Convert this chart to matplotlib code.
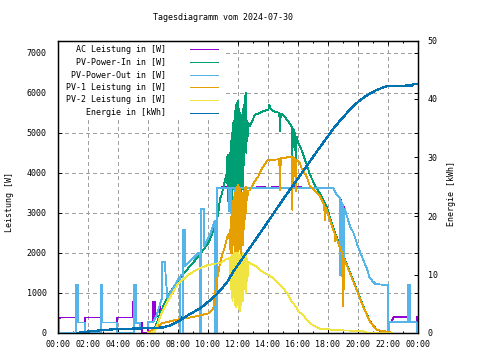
import matplotlib
matplotlib.use('Agg')
import matplotlib.pyplot as plt
from matplotlib.patches import Rectangle
from matplotlib.lines import Line2D
from matplotlib.ticker import MultipleLocator, FuncFormatter

plt.rcParams['font.family'] = ['DejaVu Sans Mono']
plt.rcParams['font.size'] = 6
plt.rcParams['lines.antialiased'] = False

# Farben (gnuplot Standard)
C_AC = '#9400d3'
C_IN = '#009e73'
C_OUT = '#56b4e9'
C_PV1 = '#e69f00'
C_PV2 = '#f0e442'
C_E = '#0072b2'

# AC Leistung [W] (Stunde, Wert)
ac_t = [0.0, 0.07, 0.12, 1.2, 1.2, 1.31, 1.31, 1.8, 1.8, 2.85, 2.85, 2.95, 2.95, 3.91, 3.91,
        5.0, 5.0, 5.06, 5.07, 5.2, 5.2, 5.47, 5.62, 5.62, 6.02, 6.02, 6.36, 6.36, 6.45, 6.45,
        6.8, 6.8, 6.95, 6.95, 7.11, 7.29, 8.13, 8.13, 8.33, 8.33, 8.45, 8.45, 9.35, 9.49, 9.49,
        9.55, 9.55, 9.75, 9.75, 10.13, 10.45, 10.45, 10.6, 10.6, 10.9, 10.9, 11.25, 11.25,
        11.6, 11.6, 12.1, 12.1, 13.25, 13.25, 13.8, 13.8, 14.25, 14.25, 14.7, 14.7, 15.6, 15.6,
        16.2, 16.2, 18.35, 18.57, 18.78, 19.13, 19.47, 19.7, 20.0, 20.35, 20.6, 20.75, 20.95,
        21.15, 21.5, 21.98, 21.98, 22.05, 22.05, 22.24, 22.35, 23.35, 23.35, 23.47, 23.47,
        23.92, 23.92, 24.0]
ac_w = [0, 280, 385, 385, 1200, 1200, 260, 260, 385, 385, 1200, 1200, 260, 260, 385,
        385, 770, 770, 1200, 1200, 260, 240, 240, 0, 0, 280, 280, 780, 780, 410,
        410, 718, 900, 1780, 1780, 880, 1410, 390, 390, 2575, 2575, 1660, 1990, 2000, 0,
        0, 3100, 3100, 2160, 2450, 2800, 410, 410, 3620, 3620, 3655, 3655, 3620,
        3620, 3655, 3655, 3620, 3620, 3655, 3655, 3620, 3620, 3655, 3655, 3620, 3620, 3655,
        3655, 3620, 3620, 3450, 3370, 3075, 2660, 2500, 2150, 1825, 1600, 1400, 1300,
        1230, 1210, 1200, 0, 0, 280, 280, 390, 390, 1200, 1200, 270,
        270, 390, 390]

# PV-Power-Out [W]
out_t = [0.0, 0.02, 0.07, 0.07, 1.2, 1.2, 1.31, 1.31, 1.8, 1.8, 2.85, 2.85, 2.95, 2.95,
         3.91, 3.91, 5.07, 5.07, 5.2, 5.2, 5.47, 5.5, 6.02, 6.02, 6.35, 6.58, 6.95, 6.95,
         7.11, 7.29, 8.13, 8.13, 8.17, 8.17, 8.3, 8.3, 8.33, 8.33, 8.45, 8.45, 9.35, 9.49,
         9.49, 9.55, 9.55, 9.75, 9.75, 10.13, 10.45, 10.45, 10.6, 10.6, 11.38, 11.40, 11.43,
         11.47, 11.50, 11.53, 11.56, 11.82, 11.85, 11.88, 11.92, 11.95, 11.98, 12.0, 18.35,
         18.57, 18.78, 18.82, 18.86, 18.9, 18.94, 18.98, 19.02, 19.06, 19.1, 19.13, 19.47,
         19.7, 20.0, 20.35, 20.6, 20.75, 20.95, 21.15, 21.5, 21.98, 21.98, 22.05, 22.05,
         23.35, 23.35, 23.47, 23.47, 23.91, 23.91, 24.0]
out_w = [0, 320, 320, 0, 0, 1200, 1200, 260, 260, 0, 0, 1200, 1200, 260,
         260, 0, 0, 1200, 1200, 260, 240, 120, 120, 280, 280, 450, 900, 1780,
         1780, 880, 1410, 0, 0, 1430, 1460, 0, 0, 2575, 2575, 1660, 1990, 2000,
         0, 0, 3100, 3100, 2160, 2450, 2800, 0, 0, 3620, 3620, 3050, 3620,
         3100, 3620, 3000, 3620, 3620, 3000, 3620, 2950, 3620, 3050, 3620, 3620,
         3450, 3370, 1450, 3300, 1410, 3250, 1500, 3200, 1600, 3100, 3075, 2660,
         2500, 2150, 1825, 1600, 1400, 1300, 1230, 1210, 1200, 0, 0, 280,
         280, 1200, 1200, 270, 270, 0, 0]

# PV-Power-In, PV-1, PV-2 [W]
pv_t = [6.0, 6.35, 6.47, 6.91, 7.13, 7.35, 8.02, 8.69, 9.02, 9.35, 10.02, 10.35, 10.47,
        10.58, 10.69, 10.8, 10.91, 11.13, 11.25,
        11.27, 11.31, 11.35, 11.39, 11.43, 11.47, 11.51, 11.55, 11.59, 11.63, 11.67, 11.71,
        11.75, 11.79, 11.83, 11.87, 11.91, 11.95, 11.99, 12.03, 12.07, 12.11, 12.15, 12.19,
        12.23, 12.27, 12.31, 12.35, 12.39, 12.43, 12.47, 12.51, 12.55, 12.59, 12.63, 12.67,
        12.75, 12.8, 13.13, 13.36, 13.58, 13.85, 14.02, 14.1, 14.15, 14.47, 14.75, 14.8,
        14.85, 15.1, 15.35, 15.58, 15.62, 15.66, 15.8, 15.85, 15.9, 16.0, 16.13, 16.25,
        16.58, 16.8, 17.24, 17.47, 17.75, 17.78, 17.81, 17.91, 18.35, 18.44, 18.47, 18.5,
        18.69, 18.98, 19.0, 19.02, 19.06, 19.09, 19.47, 19.91, 20.35, 20.67, 20.8, 21.25,
        21.8, 22.0, 22.27]
pv_in = [0, 0, 140, 575, 760, 950, 1325, 1620, 1760, 1910, 2240, 2550, 2700,
         2825, 3000, 3350, 3450, 3800, 4000,
         4400, 3300, 4450, 3250, 4500, 3900, 4800, 3400, 5000, 3200, 5250, 3600,
         5300, 3000, 5700, 3400, 5750, 3800, 5800, 3100, 5600, 3500, 5500, 3200,
         5450, 4000, 5600, 3600, 5700, 4200, 5800, 6000, 4500, 5300, 4800, 5250,
         5200, 5160, 5450, 5480, 5515, 5560, 5575, 5700, 5600, 5515, 5500, 5040,
         5480, 5400, 5280, 5150, 4200, 5100, 4990, 4200, 4900, 4750, 4660, 4550,
         4200, 3950, 3600, 3490, 3270, 3250, 3220, 3150, 2620, 2530, 2500, 2470,
         2280, 1980, 1960, 1940, 1900, 1870, 1510, 1090, 670, 400, 290, 80,
         20, 0, 0]
pv1 = [20, 80, 120, 240, 260, 280, 340, 380, 400, 430, 490, 610, 990,
       1300, 1490, 1740, 1900, 2160, 2350,
       2400, 2350, 2450, 2400, 2500, 2100, 2900, 2000, 3100, 1900, 3300, 2200,
       3400, 1850, 3600, 2000, 3650, 2400, 3700, 1900, 3650, 2100, 3600, 1800,
       3500, 2500, 3500, 2200, 3550, 2600, 3600, 3650, 3000, 3550, 3400, 3550,
       3560, 3575, 3800, 3910, 4100, 4250, 4325, 4300, 4320, 4325, 4340, 3575,
       4360, 4370, 4390, 4410, 3075, 4400, 4350, 3550, 4330, 4300, 4240, 4100,
       3900, 3660, 3500, 3410, 3190, 2825, 3140, 3075, 2575, 2490, 2300, 2430,
       2240, 1950, 660, 1910, 1100, 1840, 1490, 1075, 660, 390, 280, 75,
       40, 30, 0]
pv2 = [0, 20, 60, 500, 660, 820, 1240, 1450, 1530, 1600, 1700, 1720, 1730,
       1735, 1738, 1740, 1760, 1825, 1850,
       1850, 1840, 1860, 1850, 1870, 1400, 1900, 1100, 1950, 800, 1950, 900,
       2000, 700, 2000, 650, 2000, 1000, 2000, 600, 1950, 550, 1950, 700,
       1900, 950, 2000, 800, 1950, 1100, 1950, 2000, 1000, 1850, 1300, 1780,
       1760, 1740, 1680, 1620, 1540, 1480, 1450, 1430, 1420, 1330, 1220, 1200,
       1180, 1080, 950, 780, 770, 760, 680, 660, 640, 560, 500, 490,
       330, 240, 150, 110, 100, 100, 100, 95, 80, 78, 77, 76,
       70, 65, 65, 65, 64, 64, 60, 50, 40, 0, 0, 0,
       0, 0, 0]

# Energie [kWh]
e_t = [1.25, 1.8, 2.8, 3.8, 5.0, 6.3, 7.0, 7.5, 8.0, 8.7, 9.47, 10.0, 10.58, 11.25, 11.69,
       12.8, 13.91, 15.02, 16.13, 17.25, 18.35, 18.8, 19.47, 20.0, 20.58, 21.2, 21.91, 22.0,
       23.6, 23.7, 24.0]
e_kwh = [0.0, 0.2, 0.45, 0.65, 0.75, 0.85, 0.95, 1.3, 1.95, 3.1, 4.2, 5.3, 6.6, 8.6, 10.5,
         14.6, 18.7, 22.9, 26.9, 31.0, 34.9, 36.3, 38.2, 39.5, 40.6, 41.5, 42.2, 42.25,
         42.3, 42.5, 42.5]

legend_labels = ['AC Leistung in [W]', 'PV-Power-In in [W]', 'PV-Power-Out in [W]',
                 'PV-1 Leistung in [W]', 'PV-2 Leistung in [W]', 'Energie in [kWh]']
legend_colors = [C_AC, C_IN, C_OUT, C_PV1, C_PV2, C_E]

W, H = 480, 360
fig = plt.figure(figsize=(4.8, 3.6), dpi=100)
ax1 = fig.add_axes([58 / W, 27 / H, 360 / W, 292.5 / H])
ax2 = ax1.twinx()


def fx(px):
    return px / W


def fy(py):
    return 1 - py / H


lw = 0.6
ax1.plot(ac_t, ac_w, color=C_AC, lw=lw, zorder=3)
ax1.plot(pv_t, pv_in, color=C_IN, lw=lw, zorder=3)
ax1.plot(out_t, out_w, color=C_OUT, lw=lw, zorder=3)
ax1.plot(pv_t, pv1, color=C_PV1, lw=lw, zorder=3)
ax1.plot(pv_t, pv2, color=C_PV2, lw=lw, zorder=3)
ax2.plot(e_t, e_kwh, color=C_E, lw=0.9)

ax1.set_xlim(0, 24)
ax1.set_ylim(0, 7300)
ax2.set_ylim(0, 50)

ax1.xaxis.set_major_locator(MultipleLocator(2))
ax1.xaxis.set_minor_locator(MultipleLocator(1))
ax1.xaxis.set_major_formatter(FuncFormatter(lambda v, p: f'{int(round(v)) % 24:02d}:00'))
ax1.yaxis.set_major_locator(MultipleLocator(1000))
ax2.yaxis.set_major_locator(MultipleLocator(10))

ax1.tick_params(axis='x', which='both', direction='in', top=True, pad=5)
ax1.tick_params(axis='x', which='major', length=3, width=0.7)
ax1.tick_params(axis='x', which='minor', length=1.5, width=0.7)
ax1.tick_params(axis='y', direction='in', right=True, length=3, width=0.7, pad=8)
ax2.tick_params(axis='y', direction='in', length=3, width=0.7, pad=7)

ax1.set_axisbelow(True)
ax1.grid(True, color='#a0a0a0', linestyle=(0, (3.6, 3.6)), lw=0.6)
for ax in (ax1, ax2):
    for sp in ax.spines.values():
        sp.set_linewidth(0.9)

fig.text(fx(223), fy(18), 'Tagesdiagramm vom 2024-07-30', ha='center', va='center')
fig.text(fx(10), fy(202), 'Leistung [W]', rotation=90, ha='center', va='center')
fig.text(fx(452), fy(194), 'Energie [kWh]', rotation=90, ha='center', va='center')

# Legende (Box ohne Rand, Text rechtsbuendig)
ax1.add_patch(Rectangle((fx(59), fy(120)), fx(225) - fx(59), fy(40.5) - fy(120),
                        transform=fig.transFigure, facecolor='white', edgecolor='none',
                        zorder=2.2))
rows = [49, 62, 74.5, 87.3, 100, 112.7]
for lab, col, ry in zip(legend_labels, legend_colors, rows):
    ax1.text(fx(166), fy(ry), lab, transform=fig.transFigure, ha='right', va='center',
             zorder=5)
    ax1.add_line(Line2D([fx(190), fx(218)], [fy(ry), fy(ry)], transform=fig.transFigure,
                        color=col, lw=lw, zorder=5))

fig.savefig('out.png', dpi=100)
